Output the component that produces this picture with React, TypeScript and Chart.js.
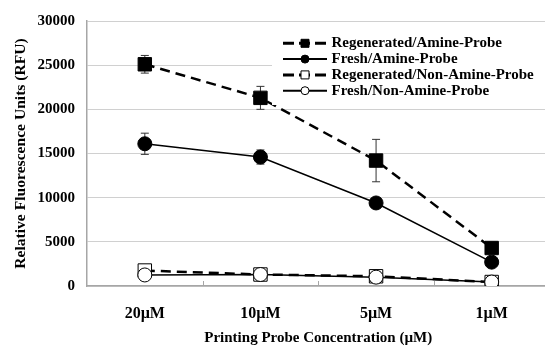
import { useEffect, useRef } from 'react';
import { Chart, registerables } from 'chart.js';

Chart.register(...registerables);

const FONT = '"Liberation Serif", "Times New Roman", serif';

const categories = ['20µM', '10µM', '5µM', '1µM'];
const seriesNames = [
  'Regenerated/Amine-Probe',
  'Fresh/Amine-Probe',
  'Regenerated/Non-Amine-Probe',
  'Fresh/Non-Amine-Probe',
];
const regenAmine = [25100, 21300, 14200, 4300];
const regenAmineErr = [1000, 1300, 2400, 0];
const freshAmine = [16100, 14600, 9400, 2700];
const freshAmineErr = [1200, 800, 0, 0];
const regenNonAmine = [1750, 1300, 1100, 450];
const regenNonAmineErr = [0, 0, 0, 0];
const freshNonAmine = [1250, 1300, 1000, 450];
const freshNonAmineErr = [0, 0, 0, 0];
const yMin = 0;
const yMax = 30000;
const yStep = 5000;
const yTitle = 'Relative Fluorescence Units (RFU)';
const xTitle = 'Printing Probe Concentration (µM)';

const errors = [regenAmineErr, freshAmineErr, regenNonAmineErr, freshNonAmineErr];

export default function App() {
  const ref = useRef<HTMLCanvasElement>(null);

  useEffect(() => {
    if (!ref.current) return;

    const errorBars = {
      id: 'errorBars',
      beforeDatasetsDraw(chart: any) {
        const ctx = chart.ctx;
        const y = chart.scales.y;
        ctx.save();
        ctx.strokeStyle = '#333';
        ctx.lineWidth = 1;
        chart.data.datasets.forEach((ds: any, di: number) => {
          const meta = chart.getDatasetMeta(di);
          const err = errors[di];
          meta.data.forEach((pt: any, i: number) => {
            const e = err[i];
            if (!e) return;
            const v = ds.data[i];
            const yt = y.getPixelForValue(v + e);
            const yb = y.getPixelForValue(v - e);
            const x = pt.x;
            ctx.beginPath();
            ctx.moveTo(x, yt);
            ctx.lineTo(x, yb);
            ctx.moveTo(x - 4, yt);
            ctx.lineTo(x + 4, yt);
            ctx.moveTo(x - 4, yb);
            ctx.lineTo(x + 4, yb);
            ctx.stroke();
          });
        });
        ctx.restore();
      },
    };

    const innerTicks = {
      id: 'innerTicks',
      afterDraw(chart: any) {
        const ctx = chart.ctx;
        const xs = chart.scales.x;
        const n = categories.length;
        ctx.save();
        ctx.strokeStyle = '#a6a6a6';
        ctx.lineWidth = 1;
        for (let i = 1; i < n; i++) {
          const px = Math.round(xs.left + (i * (xs.right - xs.left)) / n) + 0.5;
          ctx.beginPath();
          ctx.moveTo(px, xs.top - 5);
          ctx.lineTo(px, xs.top);
          ctx.stroke();
        }
        ctx.restore();
      },
    };

    const customLegend = {
      id: 'customLegend',
      afterDraw(chart: any) {
        const ctx = chart.ctx;
        const area = chart.chartArea;
        const bx = 272;
        const by = area.top + 10;
        ctx.save();
        ctx.fillStyle = '#fff';
        ctx.fillRect(bx, by, chart.width - bx, 74);
        chart.data.datasets.forEach((ds: any, i: number) => {
          const cy = area.top + 22.3 + i * 15.8;
          const x0 = 283;
          const x1 = 327;
          ctx.beginPath();
          ctx.setLineDash(ds.borderDash && ds.borderDash.length ? [11, 5] : []);
          ctx.strokeStyle = '#000';
          ctx.lineWidth = ds.borderWidth + 0.5;
          ctx.moveTo(x0, cy);
          ctx.lineTo(x1, cy);
          ctx.stroke();
          ctx.setLineDash([]);
          const mx = (x0 + x1) / 2;
          ctx.fillStyle = ds.pointBackgroundColor;
          ctx.strokeStyle = '#000';
          ctx.lineWidth = 1;
          ctx.beginPath();
          if (ds.pointStyle === 'rect') {
            ctx.rect(mx - 4, cy - 4, 8, 8);
          } else {
            ctx.arc(mx, cy, 4, 0, Math.PI * 2);
          }
          ctx.fill();
          ctx.stroke();
          ctx.fillStyle = '#000';
          ctx.font = `bold 15px ${FONT}`;
          ctx.textBaseline = 'middle';
          ctx.textAlign = 'left';
          ctx.fillText(ds.label, x1 + 4.5, cy);
        });
        ctx.restore();
      },
    };

    const mk = (
      label: string,
      data: number[],
      dashed: boolean,
      style: string,
      fill: string,
      order: number
    ) => ({
      label,
      data,
      borderColor: '#000',
      borderWidth: dashed ? 2.5 : 1.5,
      borderDash: dashed ? [10, 6] : [],
      pointStyle: style,
      pointRadius: style === 'rect' ? 9.5 : 7,
      pointBackgroundColor: fill,
      pointBorderColor: '#000',
      pointBorderWidth: 1,
      tension: 0,
      order,
      fill: false,
    });

    const chart = new Chart(ref.current, {
      type: 'line',
      data: {
        labels: categories,
        datasets: [
          mk(seriesNames[0], regenAmine, true, 'rect', '#000', 4),
          mk(seriesNames[1], freshAmine, false, 'circle', '#000', 3),
          mk(seriesNames[2], regenNonAmine, true, 'rect', '#fff', 2),
          mk(seriesNames[3], freshNonAmine, false, 'circle', '#fff', 1),
        ] as any,
      },
      options: {
        animation: false,
        responsive: false,
        layout: { padding: { top: 19, right: 7, left: 0, bottom: 0 } },
        plugins: {
          legend: { display: false },
          tooltip: { enabled: false },
        },
        scales: {
          x: {
            offset: true,
            grid: { display: true, drawOnChartArea: false, drawTicks: false },
            border: { color: '#a6a6a6', width: 1.5 },
            ticks: {
              color: '#000',
              padding: 18,
              font: { family: FONT, size: 16, weight: 'bold' },
            },
            title: {
              display: true,
              text: xTitle,
              color: '#000',
              padding: { top: 13, bottom: 0 },
              font: { family: FONT, size: 15, weight: 'bold' },
            },
            afterFit: (s: any) => {
              s.height = 61;
            },
          },
          y: {
            min: yMin,
            max: yMax,
            ticks: {
              stepSize: yStep,
              color: '#000',
              padding: 12,
              font: { family: FONT, size: 15, weight: 'bold' },
              callback: (v: any) => String(v),
            },
            grid: { color: '#d0d0d0', lineWidth: 1, drawTicks: false },
            border: { color: '#a6a6a6', width: 1.5 },
            title: {
              display: true,
              text: yTitle,
              color: '#000',
              padding: { top: 12, bottom: 0 },
              font: { family: FONT, size: 15.6, weight: 'bold' },
            },
            afterFit: (s: any) => {
              s.width = 87;
            },
          },
        },
      },
      plugins: [errorBars, innerTicks, customLegend],
    } as any);

    return () => chart.destroy();
  }, []);

  return (
    <div
      style={{
        position: 'fixed',
        left: 0,
        top: 0,
        width: 545,
        height: 347,
        overflow: 'hidden',
        background: '#fff',
      }}
    >
      <canvas ref={ref} width={560} height={347} style={{ display: 'block' }} />
    </div>
  );
}
